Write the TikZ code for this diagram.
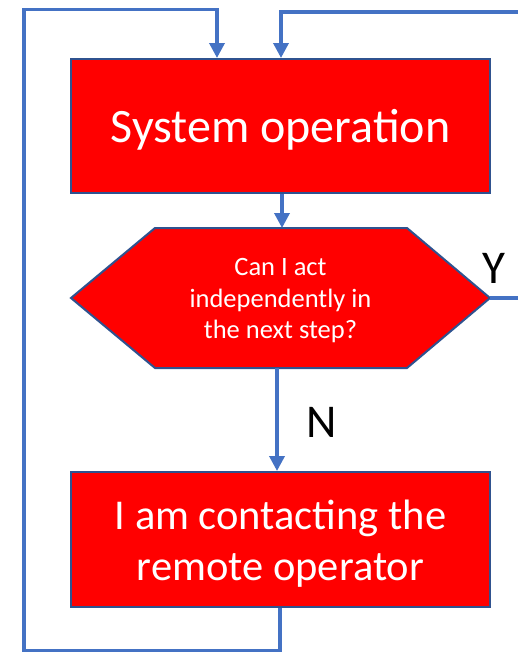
\documentclass[tikz,border=0pt]{standalone}
\usepackage{fontspec}
\setmainfont{Carlito}
\usetikzlibrary{arrows.meta}
\definecolor{boxred}{RGB}{255,0,0}
\definecolor{boxedge}{RGB}{47,82,143}
\definecolor{linkblue}{RGB}{68,114,196}
\begin{document}
\begin{tikzpicture}[x=1pt,y=-1pt,
  box/.style={draw=boxedge,fill=boxred,line width=2pt,minimum width=419pt,inner sep=0pt},
  boxtext/.style={text=white,align=center,inner sep=0pt},
  decision/.style={draw=boxedge,fill=boxred,line width=2pt,line join=miter},
  conn/.style={draw=linkblue,line width=3.5pt},
  arr/.style={conn,-{Triangle[width=15pt,length=15pt]}},
  lbl/.style={font=\fontsize{47}{56}\selectfont,text=black}]
\clip (0,0) rectangle (518,653);
\fill[white] (0,0) rectangle (518,653);
% boxes
\node[box,minimum height=134pt] (top) at (280.5,126) {};
\node[boxtext,font=\fontsize{48}{58}\selectfont] (toptext) at (280.5,130) {System operation};
\node[box,minimum height=135pt] (bot) at (280.5,539.5) {};
\node[boxtext,font=\fontsize{42.5}{51}\selectfont] (bottext) at (280.5,544) {I am contacting the\\remote operator};
% decision hexagon
\draw[decision] (71,298) -- (155,228) -- (407,228) -- (490,298) -- (407,368) -- (155,368) -- cycle;
\node[boxtext,font=\fontsize{26.5}{31.5}\selectfont] (q) at (280.5,301) {Can I act\\independently in\\the next step?};
\coordinate (hexT) at (282,228);
\coordinate (hexB) at (277,368);
\coordinate (hexR) at (490,298);
% loop corners
\coordinate (b1) at (280,650.5);
\coordinate (b2) at (24,650.5);
\coordinate (b3) at (24,9.5);
\coordinate (b4) at (217,9.5);
\coordinate (r1) at (530,298);
\coordinate (r2) at (530,12);
\coordinate (r3) at (281,12);
% connectors
\draw[arr] (top.south -| hexT) -- (hexT);
\draw[arr] (hexB) -- (bot.north -| hexB);
\draw[arr] (bot.south -| b1) -- (b1) -- (b2) -- (b3) -- (b4) -- (top.north -| b4);
\draw[arr] (hexR) -- (r1) -- (r2) -- (r3) -- (top.north -| r3);
% labels
\node[lbl] (Y) at (494,268) {Y};
\node[lbl] (N) at (322,422) {N};
\end{tikzpicture}
\end{document}
